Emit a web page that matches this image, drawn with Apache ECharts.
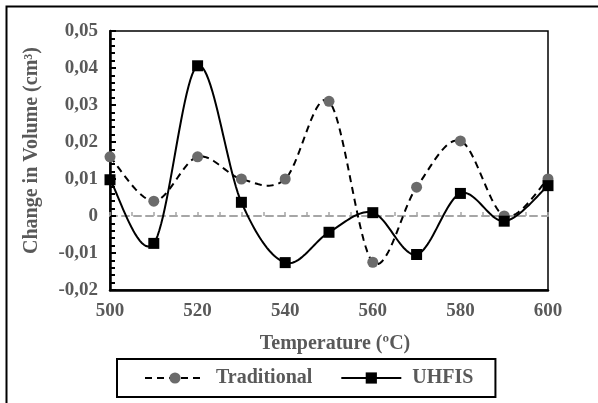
<!DOCTYPE html>
<html>
<head>
<meta charset="utf-8">
<script src="https://cdn.jsdelivr.net/npm/echarts@6/dist/echarts.min.js"></script>
<style>html,body{margin:0;padding:0;background:#fff;}#c{width:598px;height:403px;}</style>
</head>
<body>
<div id="c"></div>
<script>
const temperatures = [500, 510, 520, 530, 540, 550, 560, 570, 580, 590, 600];
const traditional = [0.016, 0.004, 0.016, 0.010, 0.010, 0.031, -0.0125, 0.0078, 0.0203, 0.0000, 0.0100];
const uhfis = [0.0098, -0.0074, 0.0406, 0.0037, -0.0126, -0.0044, 0.0009, -0.0104, 0.0061, -0.0014, 0.0082];
const yTicks = { min: -0.02, max: 0.05, step: 0.01 };
const xTicks = { min: 500, max: 600, step: 20 };

const FONT = "'Liberation Serif', 'Times New Roman', serif";
const GRAY_TEXT = '#595959';

const pairs = arr => temperatures.map((t, i) => [t, arr[i]]);
const fmt = v => Math.abs(v) < 1e-9 ? '0' : v.toFixed(2).replace('.', ',');

// Smoothed curve (Catmull-Rom style, like a spreadsheet "smoothed line"), computed in pixel space via api.coord
function smoothRenderer(values, dash) {
  return function (params, api) {
    if (params.dataIndex !== 0) return null;
    const P = temperatures.map((t, i) => api.coord([t, values[i]]));
    const n = P.length;
    const pts = [];
    for (let i = 0; i < n - 1; i++) {
      const p0 = P[Math.max(0, i - 1)], p1 = P[i], p2 = P[i + 1], p3 = P[Math.min(n - 1, i + 2)];
      const c1 = [p1[0] + (p2[0] - p0[0]) / 6, p1[1] + (p2[1] - p0[1]) / 6];
      const c2 = [p2[0] - (p3[0] - p1[0]) / 6, p2[1] - (p3[1] - p1[1]) / 6];
      const steps = 24;
      for (let s = (i === 0 ? 0 : 1); s <= steps; s++) {
        const t = s / steps, u = 1 - t;
        pts.push([
          u * u * u * p1[0] + 3 * u * u * t * c1[0] + 3 * u * t * t * c2[0] + t * t * t * p2[0],
          u * u * u * p1[1] + 3 * u * u * t * c1[1] + 3 * u * t * t * c2[1] + t * t * t * p2[1]
        ]);
      }
    }
    return {
      type: 'polyline', silent: true,
      shape: { points: pts, smooth: 0 },
      style: { stroke: '#000', lineWidth: 2, fill: 'none', lineDash: dash || null }
    };
  };
}

const chart = echarts.init(document.getElementById('c'), null, { renderer: 'canvas' });
chart.setOption({
  backgroundColor: '#fff',
  animation: false,
  graphic: [{
    type: 'rect', z: 100, silent: true,
    shape: { x: 6.5, y: 6.5, width: 700, height: 500 },
    style: { fill: 'none', stroke: '#000', lineWidth: 2 }
  }],
  grid: {
    left: 110, top: 31, right: 50, bottom: 113,
    show: true, borderColor: '#000', borderWidth: 1.5, backgroundColor: 'transparent'
  },
  legend: {
    left: 117, top: 359,
    padding: [9, 22, 9, 27],
    borderColor: '#000', borderWidth: 2,
    itemWidth: 60, itemHeight: 14, itemGap: 28,
    textStyle: { fontFamily: FONT, fontWeight: 'bold', fontSize: 20, color: GRAY_TEXT, padding: [0, 0, 0, 6] },
    data: [
      { name: 'Traditional', lineStyle: { color: '#000', width: 2, type: [7, 5], opacity: 1 } },
      { name: 'UHFIS', lineStyle: { color: '#000', width: 2, type: 'solid', opacity: 1 } }
    ]
  },
  xAxis: [{
    type: 'value', min: xTicks.min, max: xTicks.max, interval: xTicks.step,
    name: 'Temperature (ºC)', nameLocation: 'middle', nameGap: 44,
    nameTextStyle: { fontFamily: FONT, fontWeight: 'bold', fontSize: 20, color: GRAY_TEXT, padding: [0, 0, 0, 12] },
    axisLine: { onZero: false, lineStyle: { color: '#000', width: 2.5 } },
    axisTick: { show: false },
    splitLine: { show: false },
    axisLabel: { fontFamily: FONT, fontWeight: 'bold', fontSize: 19, color: GRAY_TEXT, margin: 12 }
  }, {
    type: 'value', min: xTicks.min, max: xTicks.max, interval: 5,
    position: 'bottom', offset: -74,
    axisLine: { onZero: false, lineStyle: { color: '#a6a6a6', width: 2, type: [7, 5] } },
    axisTick: { show: true, inside: true, length: 4, lineStyle: { color: '#a6a6a6', width: 1.5 } },
    axisLabel: { show: false },
    splitLine: { show: false }
  }],
  yAxis: {
    type: 'value', min: yTicks.min, max: yTicks.max, interval: yTicks.step,
    name: 'Change in Volume (cm³)', nameLocation: 'middle', nameGap: 68,
    nameTextStyle: { fontFamily: FONT, fontWeight: 'bold', fontSize: 20, color: GRAY_TEXT, padding: [0, 0, 0, 20] },
    axisLine: { show: true, lineStyle: { color: '#000', width: 2.5 } },
    axisTick: { show: true, inside: true, length: 6, lineStyle: { color: '#000', width: 2 } },
    minorTick: { show: true, splitNumber: 5, length: 5, lineStyle: { color: '#000', width: 2 } },
    splitLine: { show: false },
    axisLabel: { fontFamily: FONT, fontWeight: 'bold', fontSize: 19, color: GRAY_TEXT, margin: 12, formatter: fmt }
  },
  series: [{
    type: 'custom', xAxisIndex: 0, data: pairs(traditional),
    renderItem: smoothRenderer(traditional, [7, 5]), z: 2, silent: true
  }, {
    type: 'custom', xAxisIndex: 0, data: pairs(uhfis),
    renderItem: smoothRenderer(uhfis, null), z: 2, silent: true
  }, {
    name: 'Traditional', type: 'line', xAxisIndex: 0,
    data: pairs(traditional),
    symbol: 'circle', symbolSize: 11,
    itemStyle: { color: '#6b6b6b' },
    lineStyle: { opacity: 0 },
    z: 3
  }, {
    name: 'UHFIS', type: 'line', xAxisIndex: 0,
    data: pairs(uhfis),
    symbol: 'rect', symbolSize: 11,
    itemStyle: { color: '#000' },
    lineStyle: { opacity: 0 },
    z: 4
  }]
});
</script>
</body>
</html>
